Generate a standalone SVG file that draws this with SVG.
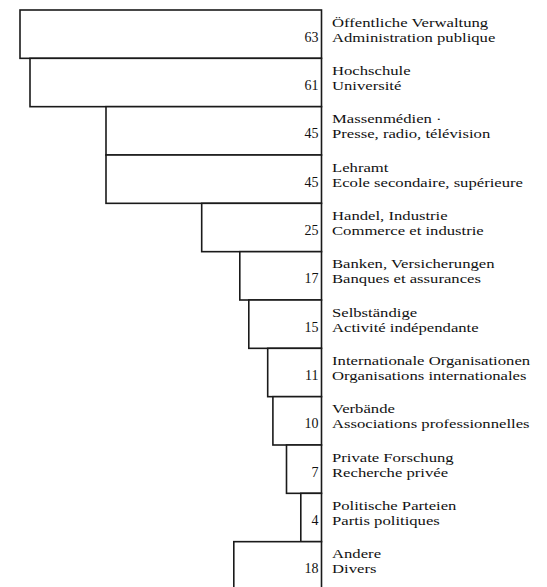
<svg xmlns="http://www.w3.org/2000/svg" width="547" height="587" viewBox="0 0 547 587">
<style>
  .bar { fill: #ffffff; stroke: #1a1a1a; stroke-width: 1.6; }
  .num { font-family: "Liberation Serif", "Times New Roman", serif; font-size: 14px; fill: #111111; text-anchor: end; }
  .lbl { font-family: "Liberation Serif", "Times New Roman", serif; font-size: 13.5px; fill: #111111; }
</style>
<rect width="547" height="587" fill="#ffffff"/>
<g id="bars">
  <g id="row-oeffentliche-verwaltung">
    <rect class="bar" x="20" y="10" width="301.5" height="48.33"/>
    <text class="num" x="318.5" y="41.5">63</text>
    <text class="lbl" transform="translate(332,26.5) scale(1.235,1)">Öffentliche Verwaltung</text>
    <text class="lbl" transform="translate(332,41.5) scale(1.235,1)">Administration publique</text>
  </g>
  <g id="row-hochschule">
    <rect class="bar" x="30" y="58.33" width="291.5" height="48.34"/>
    <text class="num" x="318.5" y="89.8">61</text>
    <text class="lbl" transform="translate(332,74.8) scale(1.235,1)">Hochschule</text>
    <text class="lbl" transform="translate(332,89.8) scale(1.235,1)">Université</text>
  </g>
  <g id="row-massenmedien">
    <rect class="bar" x="106" y="106.67" width="215.5" height="48.33"/>
    <text class="num" x="318.5" y="138.2">45</text>
    <text class="lbl" transform="translate(332,123.2) scale(1.235,1)">Massenmédien ·</text>
    <text class="lbl" transform="translate(332,138.2) scale(1.235,1)">Presse, radio, télévision</text>
  </g>
  <g id="row-lehramt">
    <rect class="bar" x="106" y="155" width="215.5" height="48.33"/>
    <text class="num" x="318.5" y="186.5">45</text>
    <text class="lbl" transform="translate(332,171.5) scale(1.235,1)">Lehramt</text>
    <text class="lbl" transform="translate(332,186.5) scale(1.235,1)">Ecole secondaire, supérieure</text>
  </g>
  <g id="row-handel">
    <rect class="bar" x="201.7" y="203.33" width="119.8" height="48.34"/>
    <text class="num" x="318.5" y="234.8">25</text>
    <text class="lbl" transform="translate(332,219.8) scale(1.235,1)">Handel, Industrie</text>
    <text class="lbl" transform="translate(332,234.8) scale(1.235,1)">Commerce et industrie</text>
  </g>
  <g id="row-banken">
    <rect class="bar" x="239.8" y="251.67" width="81.7" height="48.33"/>
    <text class="num" x="318.5" y="283.2">17</text>
    <text class="lbl" transform="translate(332,268.2) scale(1.235,1)">Banken, Versicherungen</text>
    <text class="lbl" transform="translate(332,283.2) scale(1.235,1)">Banques et assurances</text>
  </g>
  <g id="row-selbstaendige">
    <rect class="bar" x="248.8" y="300" width="72.7" height="48.33"/>
    <text class="num" x="318.5" y="331.5">15</text>
    <text class="lbl" transform="translate(332,316.5) scale(1.235,1)">Selbständige</text>
    <text class="lbl" transform="translate(332,331.5) scale(1.235,1)">Activité indépendante</text>
  </g>
  <g id="row-internationale-organisationen">
    <rect class="bar" x="267.7" y="348.33" width="53.8" height="48.34"/>
    <text class="num" x="318.5" y="379.8">11</text>
    <text class="lbl" transform="translate(332,364.8) scale(1.235,1)">Internationale Organisationen</text>
    <text class="lbl" transform="translate(332,379.8) scale(1.235,1)">Organisations internationales</text>
  </g>
  <g id="row-verbaende">
    <rect class="bar" x="272.9" y="396.67" width="48.6" height="48.33"/>
    <text class="num" x="318.5" y="428.2">10</text>
    <text class="lbl" transform="translate(332,413.2) scale(1.235,1)">Verbände</text>
    <text class="lbl" transform="translate(332,428.2) scale(1.235,1)">Associations professionnelles</text>
  </g>
  <g id="row-private-forschung">
    <rect class="bar" x="286.5" y="445" width="35" height="48.33"/>
    <text class="num" x="318.5" y="476.5">7</text>
    <text class="lbl" transform="translate(332,461.5) scale(1.235,1)">Private Forschung</text>
    <text class="lbl" transform="translate(332,476.5) scale(1.235,1)">Recherche privée</text>
  </g>
  <g id="row-politische-parteien">
    <rect class="bar" x="300.8" y="493.33" width="20.7" height="48.34"/>
    <text class="num" x="318.5" y="524.8">4</text>
    <text class="lbl" transform="translate(332,509.8) scale(1.235,1)">Politische Parteien</text>
    <text class="lbl" transform="translate(332,524.8) scale(1.235,1)">Partis politiques</text>
  </g>
  <g id="row-andere">
    <rect class="bar" x="233.8" y="541.67" width="87.7" height="60"/>
    <text class="num" x="318.5" y="573.2">18</text>
    <text class="lbl" transform="translate(332,558.2) scale(1.235,1)">Andere</text>
    <text class="lbl" transform="translate(332,573.2) scale(1.235,1)">Divers</text>
  </g>
</g>
<g id="connectors"></g>
</svg>
